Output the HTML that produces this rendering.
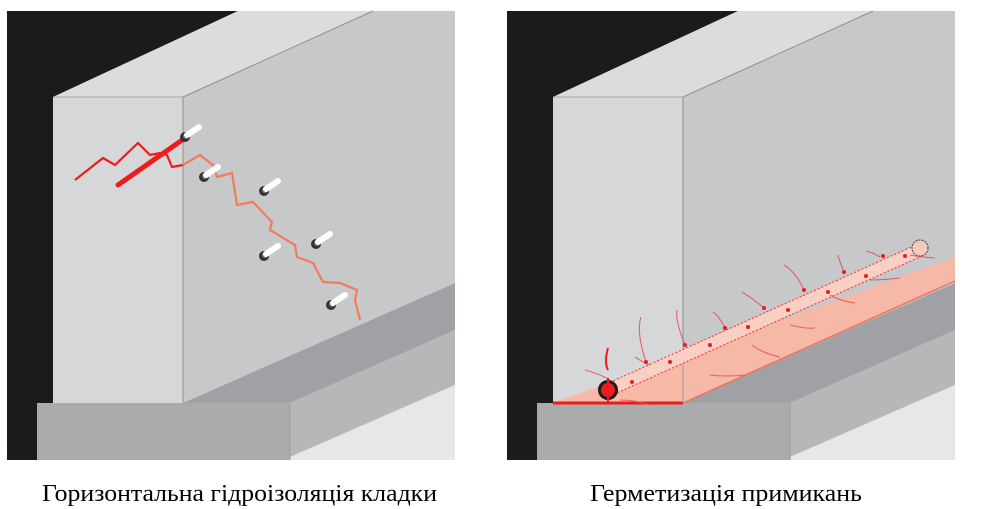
<!DOCTYPE html>
<html><head><meta charset="utf-8"><style>
html,body{margin:0;padding:0;background:#fff;width:1000px;height:509px;overflow:hidden}
</style></head><body>
<svg width="1000" height="509" viewBox="0 0 1000 509" xmlns="http://www.w3.org/2000/svg">
<defs>
<g id="scene">
  <rect x="7" y="11" width="448" height="449" fill="#dcdee0"/>
  <polygon points="7,11 238,11 53,97 53,403 37,403 37,460 7,460" fill="#1c1a1b"/>
  <polygon points="238,11 373,11 183,97 53,97" fill="#dadcde"/>
  <polygon points="373,11 455,11 455,283 183,403 183,97" fill="#c6c8ca"/>
  <rect x="53" y="97" width="130" height="306" fill="#d5d7d9"/>
  <line x1="183" y1="97" x2="183" y2="403" stroke="#8e9092" stroke-width="1"/>
  <line x1="53" y1="97" x2="183" y2="97" stroke="#a5a7a9" stroke-width="1"/>
  <line x1="183" y1="97" x2="373" y2="11" stroke="#8e9092" stroke-width="1"/>
  <polygon points="183,403 455,283 455,330 290,403" fill="#9fa1a4"/>
  <polygon points="290,403 455,330 455,385 290,457" fill="#b5b7b9"/>
  <polygon points="290,457 455,385 455,460 290,460" fill="#e6e7e8"/>
  <rect x="37" y="403" width="253" height="57" fill="#a9abad"/>
  <line x1="290" y1="403" x2="290" y2="460" stroke="#9a9c9e"/>
</g>
<g id="inj">
  <circle cx="0" cy="0" r="5" fill="#333"/>
  <circle cx="1" cy="-1" r="3" fill="#777"/>
  <line x1="2" y1="-2" x2="14" y2="-10" stroke="#fff" stroke-width="6" stroke-linecap="round"/>
</g>
</defs>

<use href="#scene"/>
<use href="#scene" x="500"/>

<polyline points="75,180 103,158 115,165 138,143 150,155 160,153 167,155 172,167 183,165" fill="none" stroke="#ee1c1c" stroke-width="2.2"/>
<line x1="118" y1="185" x2="185" y2="138" stroke="#ee1c1c" stroke-width="5" stroke-linecap="round"/>
<polyline points="183,165 200,155 213,165 217,177 232,173 237,205 253,202 272,222 270,230 295,245 297,257 313,263 323,282 340,283 357,290 355,300 360,320" fill="none" stroke="#f47a5c" stroke-width="2.2"/>
<use href="#inj" x="185" y="137"/>
<use href="#inj" x="204" y="177"/>
<use href="#inj" x="264" y="191"/>
<use href="#inj" x="264" y="256"/>
<use href="#inj" x="316" y="244"/>
<use href="#inj" x="331" y="305"/>

<polygon points="553,403 683,403 955,281 955,257" fill="#f9b8a4" opacity="0.95"/>
<line x1="683" y1="403" x2="955" y2="281" stroke="#f07060" stroke-width="1.5"/>
<line x1="553" y1="403" x2="683" y2="403" stroke="#ee1c1c" stroke-width="3"/>
<line x1="683" y1="345" x2="683" y2="403" stroke="#9a9ca0" stroke-width="1"/>
<line x1="608" y1="390" x2="920" y2="250" stroke="#fbd0c4" stroke-width="12" stroke-linecap="round"/>
<line x1="606" y1="384" x2="918" y2="244" stroke="#ee3030" stroke-width="1" stroke-dasharray="2,2"/>
<line x1="610" y1="396" x2="922" y2="256" stroke="#ee3030" stroke-width="1" stroke-dasharray="2,2"/>
<g stroke="#e85050" stroke-width="1.1" fill="none" opacity="0.85">
  <path d="M646,362 q-10,-30 -5,-45"/><path d="M685,345 q-10,-25 -8,-35"/>
  <path d="M725,328 q-6,-12 -12,-16"/><path d="M764,308 q-12,-10 -22,-16"/>
  <path d="M804,290 q-8,-18 -20,-25"/><path d="M844,272 q-5,-12 -6,-17"/>
  <path d="M880,257 q-6,-4 -14,-6"/><path d="M610,380 q-10,-6 -25,-10"/>
  <path d="M620,400 q15,0 30,5"/><path d="M710,375 q15,2 35,0"/>
  <path d="M752,345 q10,8 28,12"/><path d="M790,325 q15,4 25,3"/>
  <path d="M830,295 q10,6 25,8"/><path d="M870,280 q15,0 30,-2"/>
  <path d="M910,255 q10,2 25,3"/><path d="M650,365 q-8,-3 -15,-8"/>
</g>
<g fill="#ee1c1c">
  <circle cx="632" cy="382" r="2"/><circle cx="646" cy="362" r="2"/><circle cx="670" cy="362" r="2"/>
  <circle cx="685" cy="345" r="2"/><circle cx="710" cy="345" r="2"/><circle cx="725" cy="328" r="2"/>
  <circle cx="748" cy="327" r="2"/><circle cx="764" cy="308" r="2"/><circle cx="788" cy="310" r="2"/>
  <circle cx="804" cy="290" r="2"/><circle cx="828" cy="292" r="2"/><circle cx="844" cy="272" r="2"/>
  <circle cx="866" cy="276" r="2"/><circle cx="883" cy="256" r="2"/><circle cx="905" cy="256" r="2"/>
</g>
<circle cx="920" cy="248" r="8" fill="#f5c9bd" stroke="#555" stroke-width="1.2" stroke-dasharray="2,1"/>
<path d="M608,370 q-4,-8 0,-22" stroke="#ee1c1c" stroke-width="2" fill="none"/>
<circle cx="608" cy="390" r="10" fill="#1c1a1b"/>
<circle cx="608" cy="390" r="7" fill="#ee1c1c"/>
<line x1="608" y1="378" x2="608" y2="403" stroke="#ee1c1c" stroke-width="2"/>

<text x="42" y="501" textLength="395" lengthAdjust="spacingAndGlyphs" font-family="'Liberation Serif', serif" font-size="24" fill="#000">Горизонтальна гідроізоляція кладки</text>
<text x="590" y="501" textLength="272" lengthAdjust="spacingAndGlyphs" font-family="'Liberation Serif', serif" font-size="24" fill="#000">Герметизація примикань</text>
</svg>
</body></html>
